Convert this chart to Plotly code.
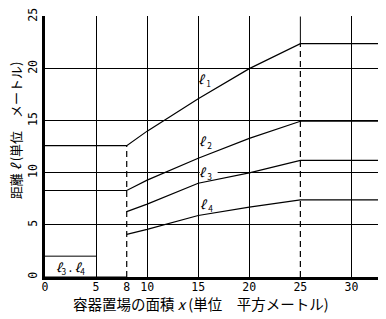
import plotly.graph_objects as go

# ---- data ----
x_max = 32.6
l1_x = [0, 8, 10, 15, 20, 25, 32.6]
l1_y = [12.6, 12.6, 14.0, 17.1, 20.0, 22.4, 22.4]
l2_x = [0, 8, 10, 15, 20, 25, 32.6]
l2_y = [8.3, 8.3, 9.3, 11.4, 13.3, 14.95, 14.95]
l3_x = [8, 10, 15, 20, 25, 32.6]
l3_y = [6.27, 7.0, 9.0, 10.0, 11.2, 11.2]
l4_x = [8, 10, 15, 20, 25, 32.6]
l4_y = [4.09, 4.57, 5.9, 6.7, 7.4, 7.4]
l34_zero_x = [0, 8]
l34_zero_y = [0, 0]
x_ticks = [0, 5, 8, 10, 15, 20, 25, 30]
x_grid = [5, 10, 15, 20, 30]
y_ticks = [0, 5, 10, 15, 20, 25]
break_x = [8, 25]

FONT = "Noto Sans CJK JP"
TICKF = "DejaVu Sans Mono"
LW = 1.2

fig = go.Figure()
# white gap in the y=10 grid line behind the l3 label
fig.add_trace(go.Scatter(x=[15.15, 16.9], y=[10, 10], mode="lines",
                         line=dict(color="white", width=3), hoverinfo="skip"))
line = dict(color="black", width=LW)
for xs, ys in [(l1_x, l1_y), (l2_x, l2_y), (l3_x, l3_y), (l4_x, l4_y), (l34_zero_x, l34_zero_y)]:
    fig.add_trace(go.Scatter(x=xs, y=ys, mode="lines", line=line, hoverinfo="skip"))

# dashed break lines at x=8 and x=25
fig.add_trace(go.Scatter(x=[break_x[0], break_x[0]], y=[0, l1_y[1]], mode="lines",
                         line=dict(color="black", width=LW, dash="6px,4px")))
fig.add_trace(go.Scatter(x=[break_x[1], break_x[1]], y=[0, l1_y[5]], mode="lines",
                         line=dict(color="black", width=LW, dash="6px,4px")))
# solid grid segment at x=25 above l1
fig.add_trace(go.Scatter(x=[break_x[1], break_x[1]], y=[l1_y[5], y_ticks[-1]], mode="lines",
                         line=dict(color="black", width=1)))
# box border around the "l3, l4" note
fig.add_trace(go.Scatter(x=[0, 5], y=[2.0, 2.0], mode="lines", line=dict(color="black", width=1)))

fig.update_layout(
    width=386, height=319,
    margin=dict(l=45, r=8, t=14, b=42),
    plot_bgcolor="white", paper_bgcolor="white",
    showlegend=False,
    xaxis=dict(range=[0, x_max], tickvals=x_ticks, ticktext=[str(v) for v in x_ticks],
               showgrid=False, zeroline=False, showline=True, linecolor="black", linewidth=2.5,
               ticks="", ticklabelstandoff=-3, tickfont=dict(family=TICKF, size=11.5, color="black"),
               minor=dict(tickvals=x_grid, showgrid=True, gridcolor="black", gridwidth=1, ticks="")),
    yaxis=dict(range=[0, 25.05], tickvals=y_ticks, showgrid=True, gridcolor="black", gridwidth=1,
               zeroline=False, showline=True, linecolor="black", linewidth=3,
               ticks="", tickangle=-90, tickfont=dict(family=TICKF, size=11.5, color="black")),
    font=dict(family=FONT, color="black"),
)

ann = [
    dict(x=15.66, y=19.0, text="<i>ℓ</i> <sub>1</sub>"),
    dict(x=15.75, y=13.0, text="<i>ℓ</i> <sub>2</sub>"),
    dict(x=15.75, y=10.0, text="<i>ℓ</i> <sub>3</sub>"),
    dict(x=15.85, y=7.0, text="<i>ℓ</i> <sub>4</sub>"),
    dict(x=2.5, y=0.95, text="<i>ℓ</i><sub>3</sub> . <i>ℓ</i><sub>4</sub>"),
]
for a in ann:
    fig.add_annotation(xref="x", yref="y", showarrow=False, xanchor="center", yanchor="middle",
                       font=dict(family=FONT, size=12, color="black"), **a)

fig.add_annotation(xref="paper", yref="paper", x=(201 - 45) / 333, y=(277 - 304) / 263,
                   xanchor="center", yanchor="middle",
                   text="容器置場の面積 <i>x</i> (単位　平方メートル)", showarrow=False,
                   font=dict(family=FONT, size=14.5, color="black"))
fig.add_annotation(xref="paper", yref="paper", x=(15 - 45) / 333, y=(277 - 129) / 263,
                   xanchor="center", yanchor="middle",
                   text="距離 <i>ℓ</i> (単位　メートル)", textangle=-90, showarrow=False,
                   font=dict(family=FONT, size=13, color="black"))

fig.write_html("out.html")
